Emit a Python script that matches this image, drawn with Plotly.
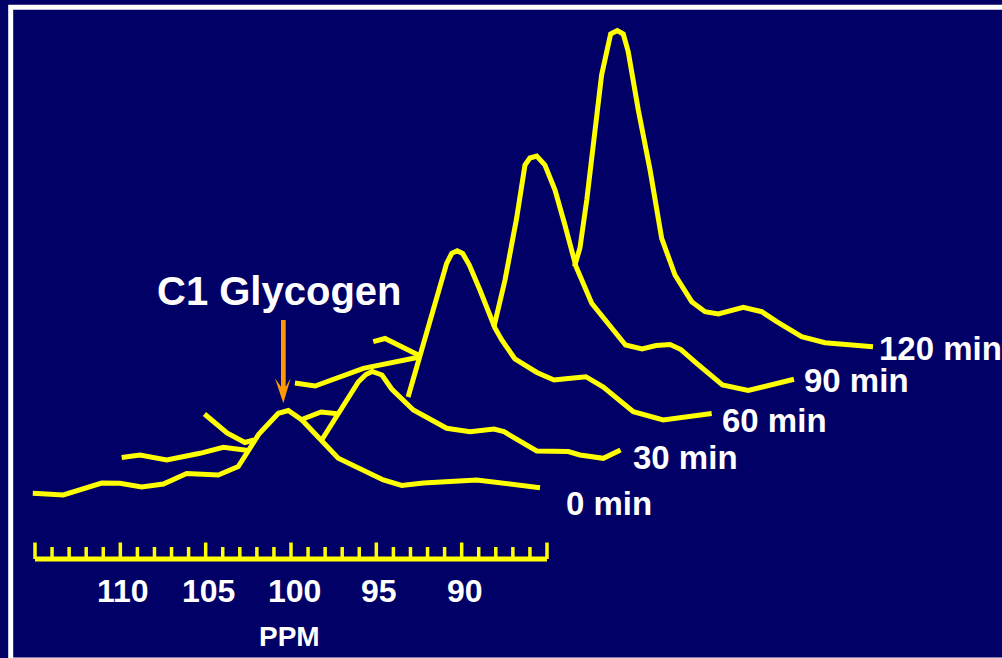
import plotly.graph_objects as go

W, H = 1002, 658
NAVY = "#000066"
YELLOW = "#FFFF00"
ORANGE = "#FF9900"
WHITE = "#FFFFFF"
FONT = "Liberation Sans, Arial, sans-serif"

# 13C NMR spectra, glycogen C1 region: chemical shift (ppm) and signal height (a.u.).
# None marks a section hidden behind the spectrum in front.
times = ["0 min", "30 min", "60 min", "90 min", "120 min"]

ppm_0 = [115.13, 113.34, 111.09, 110.02, 108.75, 107.48, 106.11, 104.26, 103.09, 101.88,
         100.74, 100.16, 99.36, 98.20, 97.23, 94.59, 93.51, 92.25, 89.12, 85.41]
int_0 = [-3.3, -5, 7, 6.7, 3, 6, 16.5, 15, 23.5, 56,
         76.7, 79.5, 70, 50, 31.7, 10, 4.5, 7, 10, 2.3]

ppm_30 = [114.92, 113.85, 112.28, 110.33, 108.97, 107.50, None,
          103.20, 102.25, 101.06, 100.61, 100.25, 99.67, 99.10, 97.83, 95.88, 94.51,
          93.11, 92.52, 90.60, 88.75, 88.07, 86.70, 85.69]
int_30 = [-5, -2.5, -7.5, -0.8, 5.2, 2, None,
          12.5, 39, 70.5, 78, 81, 77.5, 63.5, 42.5, 24.2, 20.8,
          23.5, 20.8, 1.5, 1, -2.5, -5.8, 2.5]

ppm_60 = [115.07, 113.75, 112.70, 112.17, None, 109.30, 108.24, 107.28, None,
          103.14, 102.44, 101.56, 100.88, 100.58, 100.26, 99.94, 99.55, 98.93, 98.05,
          97.65, 96.88, 95.59, 94.59, 93.75, 92.72, 91.70, 89.94, 88.19, 85.35]
int_60 = [1, -18, -27.5, -25, None, -4, 3, 1.3, None,
          18, 59.5, 110, 151.7, 161.7, 164.3, 161.5, 150, 125, 87,
          75, 56, 42.5, 35, 36.5, 38.3, 28, 3.3, -5, 1.5]

ppm_90 = [114.77, 113.59, 110.76, 109.10, 107.53, None,
          103.11, 102.46, 101.78, 101.29, 101.00, 100.60, 100.12, 99.53, 98.95, 98.30,
          97.38, 95.40, 94.43, 93.61, 92.79, 92.15, 91.23, 89.72, 88.21, 86.93, 85.53]
int_90 = [-5.5, -8.5, 9.2, 15.5, 20.2, None,
          50.5, 97.5, 159.2, 212.5, 219.5, 221.5, 212.5, 187.5, 152.5, 111,
          74.2, 32.5, 28.5, 32, 33, 28, 14.2, -7.5, -13, -7.5, -1.8]

ppm_120 = [115.18, 114.49, 112.54, None,
           103.39, 103.07, 102.67, 102.19, 101.80, 101.27, 100.88, 100.53, 100.24, 99.65,
           98.96, 98.28, 97.50, 96.52, 95.74, 94.96, 93.50, 92.42, 91.54, 90.08, 88.71, 85.90]
int_120 = [-1.7, 1.5, -15, None,
           73.5, 92, 140, 210, 265, 306, 309.5, 306, 288.3, 230,
           170, 101.7, 65, 38.3, 28.3, 26, 32.7, 28.3, 18.3, 3.3, -2.7, -6.7]

spectra_ppm = [ppm_0, ppm_30, ppm_60, ppm_90, ppm_120]
spectra_int = [int_0, int_30, int_60, int_90, int_120]

# ppm scale bar
ruler_ppm = list(range(85, 116))
ruler_labels = [110, 105, 100, 95, 90]

# stacked-plot geometry
STEP_PPM = 5.0      # each later spectrum is shifted 5 ppm to the right
STEP_Y = 37.5       # ... and raised by this much
BASE_Y = 168.0      # baseline of the 0 min spectrum
PX_PER_PPM = 512 / 30
X_RANGE = [115 + 35 / PX_PER_PPM, 115 - (W - 35) / PX_PER_PPM]
RULER_Y = 99.0
MAJOR_TOP = 115.5
MINOR_TOP = 111.0

# time label offsets from the end of each spectrum (px)
label_dx = [26, 12, 10, 10, 6]
label_dy = [-16, -7.5, -7, -1.5, -2]

fig = go.Figure()

annotations = []
for k, (xs, ys) in enumerate(zip(spectra_ppm, spectra_int)):
    x = [None if v is None else v - k * STEP_PPM for v in xs]
    y = [None if v is None else v + BASE_Y + k * STEP_Y for v in ys]
    fig.add_trace(go.Scatter(
        x=x, y=y, mode="lines", connectgaps=False,
        line=dict(color=YELLOW, width=5), hoverinfo="skip", name=times[k],
    ))
    annotations.append(dict(
        x=x[-1], y=y[-1], xref="x", yref="y", text=times[k], showarrow=False,
        xanchor="left", yanchor="middle", xshift=label_dx[k], yshift=label_dy[k],
        borderpad=0, borderwidth=0,
        font=dict(family=FONT, size=33, color=WHITE, weight="bold"),
    ))

# scale bar with 1 ppm ticks, taller every 5 ppm
fig.add_trace(go.Scatter(
    x=[ruler_ppm[-1], ruler_ppm[0]], y=[RULER_Y, RULER_Y], mode="lines",
    line=dict(color=YELLOW, width=5), hoverinfo="skip",
))
tx, ty = [], []
for p in ruler_ppm:
    top = MAJOR_TOP if p % 5 == 0 else MINOR_TOP
    tx += [p, p, None]
    ty += [RULER_Y, top, None]
fig.add_trace(go.Scatter(
    x=tx, y=ty, mode="lines", line=dict(color=YELLOW, width=3.5), hoverinfo="skip",
))

for p in ruler_labels:
    annotations.append(dict(
        x=p, y=67, xref="x", yref="y", text=str(p), showarrow=False,
        xanchor="center", yanchor="middle", xshift=3, borderpad=0, borderwidth=0,
        font=dict(family=FONT, size=32, color=WHITE, weight="bold"),
    ))
annotations.append(dict(
    x=100, y=22, xref="x", yref="y", text="PPM", showarrow=False,
    xanchor="center", yanchor="middle", xshift=-2, borderpad=0, borderwidth=0,
    font=dict(family=FONT, size=28, color=WHITE, weight="bold"),
))


def pp(px, py):
    return f"{px / W:.5f},{1 - py / H:.5f}"


annotations.append(dict(
    x=279 / W, y=1 - 291 / H, xref="paper", yref="paper", text="C1 Glycogen",
    showarrow=False, xanchor="center", yanchor="middle", borderpad=0, borderwidth=0,
    font=dict(family=FONT, size=40, color=WHITE, weight="bold"),
))

arrow = [(281, 320), (285.7, 320), (285.7, 386.7), (290.7, 378.3),
         (283.3, 403.3), (275, 378.3), (281, 386.7)]
arrow_path = "M" + " L".join(pp(a, b) for a, b in arrow) + " Z"

shapes = [
    dict(type="rect", xref="paper", yref="paper",
         x0=10.7 / W, x1=1.05, y0=1 - 660 / H, y1=1 - 7.3 / H,
         line=dict(color=WHITE, width=5), fillcolor="rgba(0,0,0,0)", layer="above"),
    dict(type="path", xref="paper", yref="paper", path=arrow_path,
         fillcolor=ORANGE, line=dict(width=0), layer="above"),
]

fig.update_layout(
    width=W, height=H, margin=dict(l=0, r=0, t=0, b=0),
    paper_bgcolor=NAVY, plot_bgcolor=NAVY, showlegend=False,
    xaxis=dict(range=X_RANGE, visible=False, fixedrange=True),
    yaxis=dict(range=[0, H], visible=False, fixedrange=True),
    annotations=annotations, shapes=shapes,
)

fig.write_html("out.html")
